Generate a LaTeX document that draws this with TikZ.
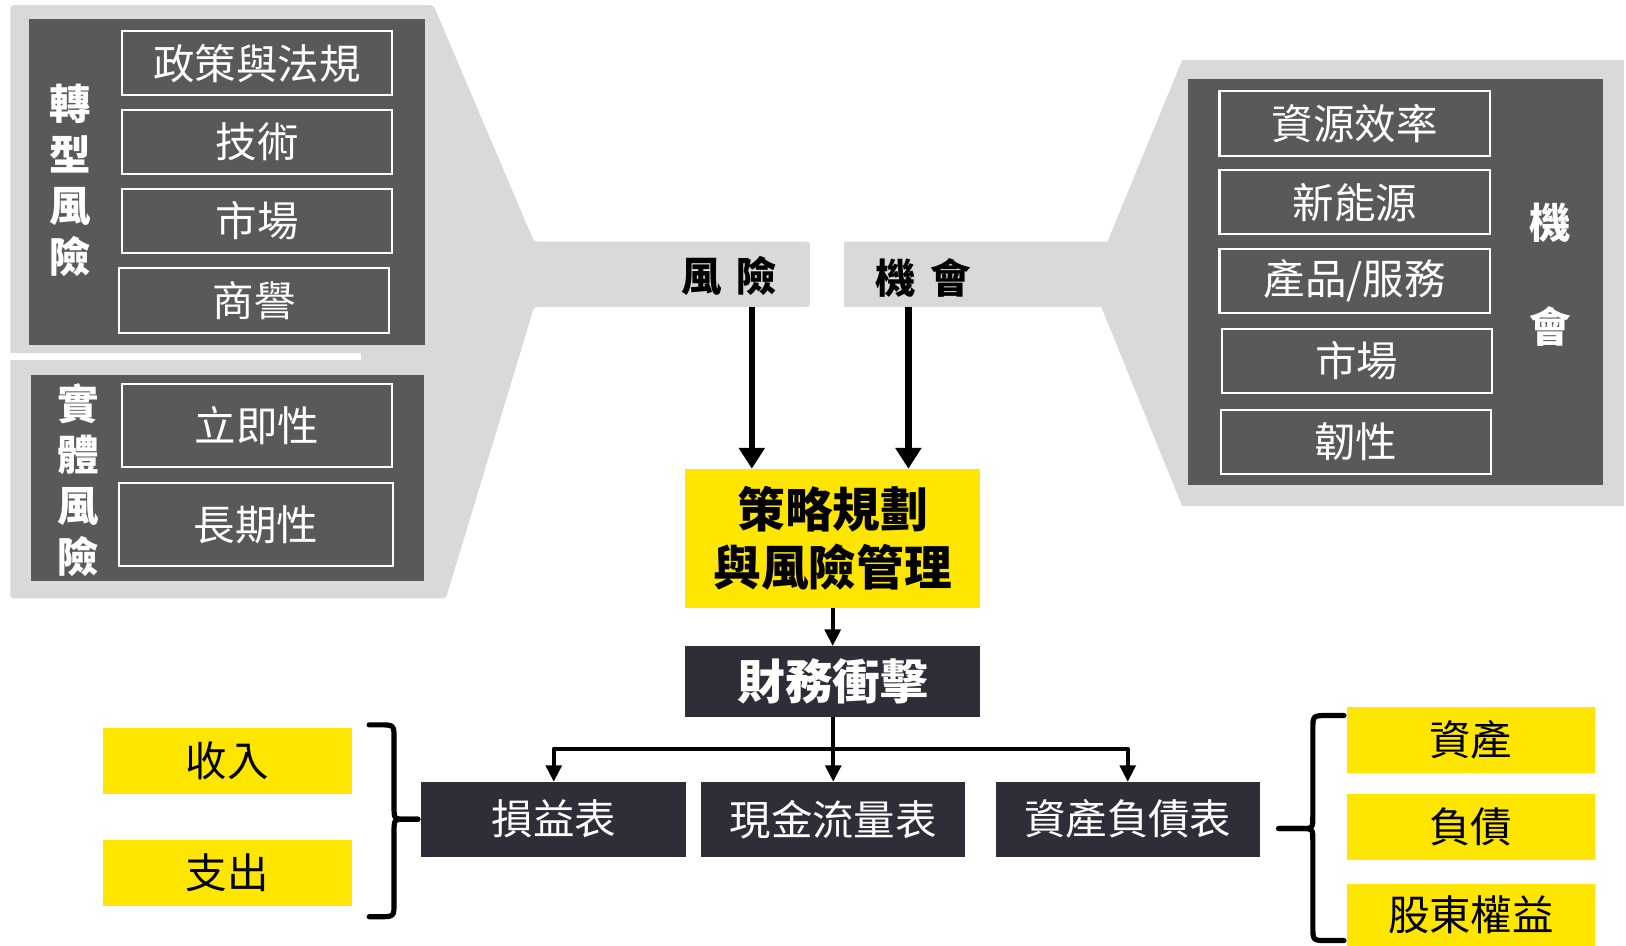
\documentclass[tikz,border=0pt]{standalone}
\usepackage{fontspec}
\setmainfont{Noto Sans CJK TC}
\usetikzlibrary{arrows.meta}
\definecolor{lightg}{HTML}{D9D9D9}
\definecolor{darkg}{HTML}{595959}
\definecolor{navy}{HTML}{2E2E38}
\definecolor{eyyellow}{HTML}{FFE600}
\begin{document}
\begin{tikzpicture}[x=1pt,y=-1pt,
  item/.style={draw=white,line width=2pt,text=white,inner sep=0pt,outer sep=0pt,font=\fontsize{40}{48}\selectfont},
  vlabel/.style={text=white,align=center,font=\bfseries\fontsize{40}{49}\selectfont,inner sep=0pt},
  navybox/.style={fill=navy,text=white,inner sep=0pt,outer sep=0pt,font=\fontsize{40}{48}\selectfont},
  yelbox/.style={fill=eyyellow,text=black,inner sep=0pt,outer sep=0pt,font=\fontsize{40}{48}\selectfont},
  bandlabel/.style={text=black,inner sep=0pt,font=\bfseries\fontsize{39}{46}\selectfont},
  bigarrow/.style={line width=6pt,-{Triangle[width=24pt,length=20pt]}},
  midarrow/.style={line width=4pt,-{Triangle[width=15pt,length=16pt]}},
  bracestroke/.style={line width=5pt,line cap=round,line join=round}
]
\useasboundingbox (0,0) rectangle (1568,912);
\fill[white] (0,0) rectangle (1568,912);
% left funnel
\fill[lightg, rounded corners=3pt] (10,5) -- (418,5) -- (515,233) -- (781,233) -- (781,296) -- (515,296) -- (430,577) -- (10,577) -- cycle;
\fill[white] (0,340) rectangle (348,347);
\fill[darkg] (28,18) rectangle (410,333);
\fill[darkg] (30,362) rectangle (409,560);
% right funnel
\fill[lightg] (814,233) -- (1068,233) -- (1140,58) -- (1566,58) -- (1566,488) -- (1140,488) -- (1062,296) -- (814,296) -- cycle;
\fill[darkg] (1146,76) rectangle (1546,468);

% left items
\node[vlabel] (tr) at (68,174) {轉\\型\\風\\險};
\node[item,minimum width=260pt,minimum height=62pt] (p1) at (248,61) {政策與法規};
\node[item,minimum width=260pt,minimum height=62pt] (p2) at (248,137) {技術};
\node[item,minimum width=260pt,minimum height=62pt] (p3) at (248,213) {市場};
\node[item,minimum width=260pt,minimum height=63pt] (p4) at (245,289.5) {商譽};
\node[vlabel] (ph) at (75,463) {實\\體\\風\\險};
\node[item,minimum width=260pt,minimum height=80pt] (q1) at (248,410) {立即性};
\node[item,minimum width=264pt,minimum height=80pt] (q2) at (247,506) {長期性};

% right items
\node[item,minimum width=261pt,minimum height=62pt] (r1) at (1306.5,119) {資源效率};
\node[item,minimum width=261pt,minimum height=62pt] (r2) at (1306.5,195) {新能源};
\node[item,minimum width=261pt,minimum height=62pt] (r3) at (1306.5,271) {產品/服務};
\node[item,minimum width=261pt,minimum height=62pt] (r4) at (1308.5,348) {市場};
\node[item,minimum width=261pt,minimum height=62pt] (r5) at (1307.5,426) {韌性};
\node[vlabel,font=\bfseries\fontsize{40}{100}\selectfont] (op) at (1495,265) {機\\會};

% band labels
\node[bandlabel] (risk) at (703,266) {風\hspace{14pt}險};
\node[bandlabel] (opp) at (890,268) {機\hspace{14pt}會};
\coordinate (riskout) at (725,296);
\coordinate (oppout) at (876,296);

% center
\node[yelbox,minimum width=284pt,minimum height=134pt,align=center,font=\bfseries\fontsize{46}{56}\selectfont] (strat) at (803,519) {策略規劃\\與風險管理};
\node[navybox,minimum width=284pt,minimum height=68pt,font=\bfseries\fontsize{46}{56}\selectfont] (fin) at (803,657) {財務衝擊};
\node[navybox,minimum width=256pt,minimum height=72pt] (is) at (534,790) {損益表};
\node[navybox,minimum width=255pt,minimum height=72pt] (cf) at (803.5,790) {現金流量表};
\node[navybox,minimum width=255pt,minimum height=72pt] (bs) at (1087.5,790) {資產負債表};

\draw[bigarrow] (riskout) -- (riskout |- strat.north);
\draw[bigarrow] (oppout) -- (oppout |- strat.north);
\draw[midarrow] (strat) -- (fin);
\coordinate (split) at (803.5,722);
\draw[midarrow] (fin.south -| split) -- (cf.north);
\draw[midarrow,line join=round] (split) -| (is.north);
\draw[midarrow,line join=round] (split) -| (bs.north);

% yellow side boxes
\node[yelbox,minimum width=240pt,minimum height=64pt] (inc) at (219,734) {收入};
\node[yelbox,minimum width=240pt,minimum height=64pt] (exp) at (219,842) {支出};
\node[yelbox,minimum width=239pt,minimum height=63pt] (as) at (1418.5,713.5) {資產};
\node[yelbox,minimum width=239pt,minimum height=63pt] (li) at (1418.5,797.5) {負債};
\node[yelbox,minimum width=239pt,minimum height=60pt] (eq) at (1418.5,882) {股東權益};

% braces
\coordinate (lbtip) at (403,790);
\draw[bracestroke] (356,699) -- (366,699) .. controls (380,699) .. (380,713) -- (380,778)
   .. controls (380,790) .. (392,790) -- (lbtip);
\draw[bracestroke] (lbtip) -- (392,790) .. controls (380,790) .. (380,802) -- (380,870)
   .. controls (380,884) .. (366,884) -- (356,884);
\coordinate (rbtip) at (1233,799);
\draw[bracestroke] (1296,690) -- (1280,690) .. controls (1266,690) .. (1266,704) -- (1266,787)
   .. controls (1266,799) .. (1254,799) -- (rbtip);
\draw[bracestroke] (rbtip) -- (1254,799) .. controls (1266,799) .. (1266,811) -- (1266,893)
   .. controls (1266,907) .. (1280,907) -- (1296,907);
\end{tikzpicture}
\end{document}
